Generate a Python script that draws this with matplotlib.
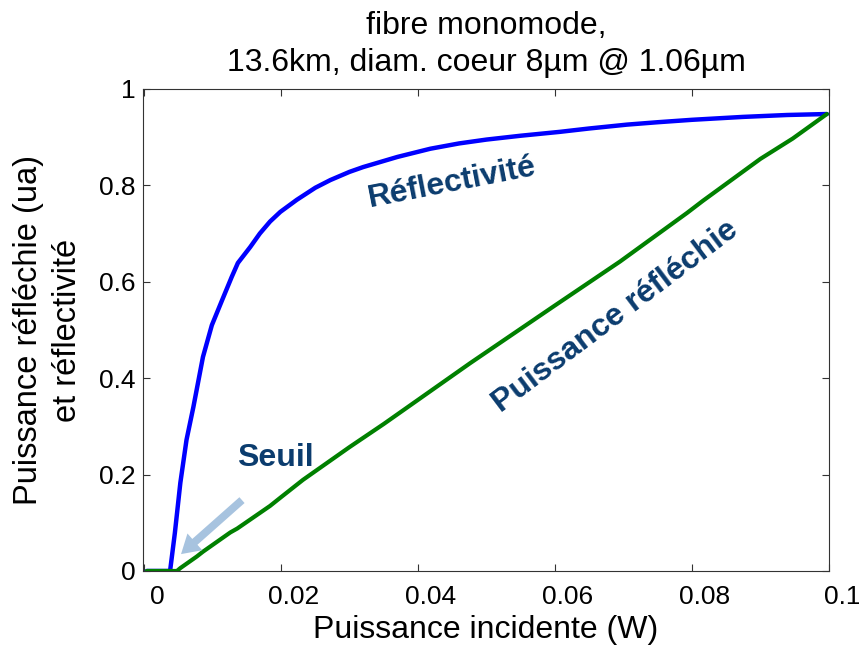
import matplotlib

matplotlib.use("Agg")
import matplotlib.pyplot as plt
from matplotlib.transforms import ScaledTranslation

plt.rcParams["font.family"] = ["Liberation Sans", "DejaVu Sans"]

# reflectivity (blue)
refl_x = [0.0004, 0.0038, 0.0045, 0.0053, 0.0062, 0.0072, 0.0086, 0.0099,
          0.0114, 0.0128, 0.0137, 0.0155, 0.0169, 0.0184, 0.0199, 0.0223,
          0.0250, 0.0272, 0.0300, 0.0320, 0.0370, 0.0418, 0.0460, 0.0500,
          0.0550, 0.0607, 0.0650, 0.0705, 0.0750, 0.0800, 0.0874, 0.0939,
          0.0997]
refl_y = [0.0, 0.0, 0.079, 0.183, 0.272, 0.340, 0.444, 0.510,
          0.562, 0.610, 0.639, 0.672, 0.700, 0.725, 0.745, 0.770,
          0.795, 0.811, 0.828, 0.838, 0.859, 0.876, 0.887, 0.895,
          0.903, 0.911, 0.918, 0.926, 0.931, 0.936, 0.942, 0.946,
          0.948]

# reflected power (green)
pref_x = [0.0004, 0.0048, 0.0053, 0.0077, 0.0086, 0.0126, 0.0136, 0.0184,
          0.0199, 0.0232, 0.0267, 0.0300, 0.0350, 0.0400, 0.0476, 0.0597,
          0.0695, 0.0793, 0.0816, 0.0900, 0.0947, 0.0997]
pref_y = [0.0, 0.0, 0.006, 0.030, 0.040, 0.080, 0.088, 0.135,
          0.152, 0.189, 0.224, 0.257, 0.305, 0.355, 0.431, 0.548,
          0.642, 0.743, 0.768, 0.855, 0.897, 0.948]

xticks = [0, 0.02, 0.04, 0.06, 0.08, 0.1]
xtick_labels = ["0", "0.02", "0.04", "0.06", "0.08", "0.1"]
yticks = [0, 0.2, 0.4, 0.6, 0.8, 1]
ytick_labels = ["0", "0.2", "0.4", "0.6", "0.8", "1"]

TEXT_BLUE = "#0b3c6e"
ARROW_BLUE = "#a7c3df"

fig = plt.figure(figsize=(8.59, 6.47), dpi=100)
ax = fig.add_axes([0.1665, 0.1175, 0.7985, 0.745])

ax.plot(refl_x, refl_y, color="#0000ff", linewidth=3.2, solid_capstyle="round")
ax.plot(pref_x, pref_y, color="#008000", linewidth=3.0, solid_capstyle="round")

ax.set_xlim(-0.00015, 0.1)
ax.set_ylim(0, 1)
ax.set_xticks(xticks, xtick_labels)
ax.set_yticks(yticks, ytick_labels)
ax.tick_params(direction="in", length=5, width=0.8, top=True, right=True,
               labelsize=19, color="#333333")
ax.tick_params(axis="x", pad=10)
ax.tick_params(axis="y", pad=5.5)
for s in ax.spines.values():
    s.set_color("#333333")
    s.set_linewidth(0.8)

# tick labels in the original sit slightly right of their ticks
shift = ScaledTranslation(13 / 100, 0, fig.dpi_scale_trans)
for lab in ax.get_xticklabels():
    lab.set_transform(lab.get_transform() + shift)

ax.set_xlabel("Puissance incidente (W)", fontsize=23)
ax.xaxis.set_label_coords(0.5, -0.092)
ax.set_ylabel("Puissance réfléchie (ua)\net réflectivité", fontsize=23.5,
              linespacing=1.3)
ax.yaxis.set_label_coords(-0.088, 0.5)
ax.set_title("fibre monomode,\n13.6km, diam. coeur 8µm @ 1.06µm",
             fontsize=23, linespacing=1.3, pad=13)

ax.text(0.045, 0.805, "Réflectivité", color=TEXT_BLUE, fontsize=23,
        fontweight="bold", rotation=11, ha="center", va="center",
        rotation_mode="anchor")
ax.text(0.0688, 0.527, "Puissance réfléchie", color=TEXT_BLUE, fontsize=23,
        fontweight="bold", rotation=37, ha="center", va="center",
        rotation_mode="anchor")
ax.text(0.0191, 0.234, "Seuil", color=TEXT_BLUE, fontsize=23,
        fontweight="bold", ha="center", va="center")
ax.annotate("", xy=(0.0054, 0.035), xytext=(0.0143, 0.147),
            arrowprops=dict(arrowstyle="simple,head_width=1.15,head_length=0.95,tail_width=0.4",
                            mutation_scale=14, color=ARROW_BLUE, linewidth=0,
                            shrinkA=0, shrinkB=0))

fig.savefig("out.png", dpi=100)
plt.close(fig)
